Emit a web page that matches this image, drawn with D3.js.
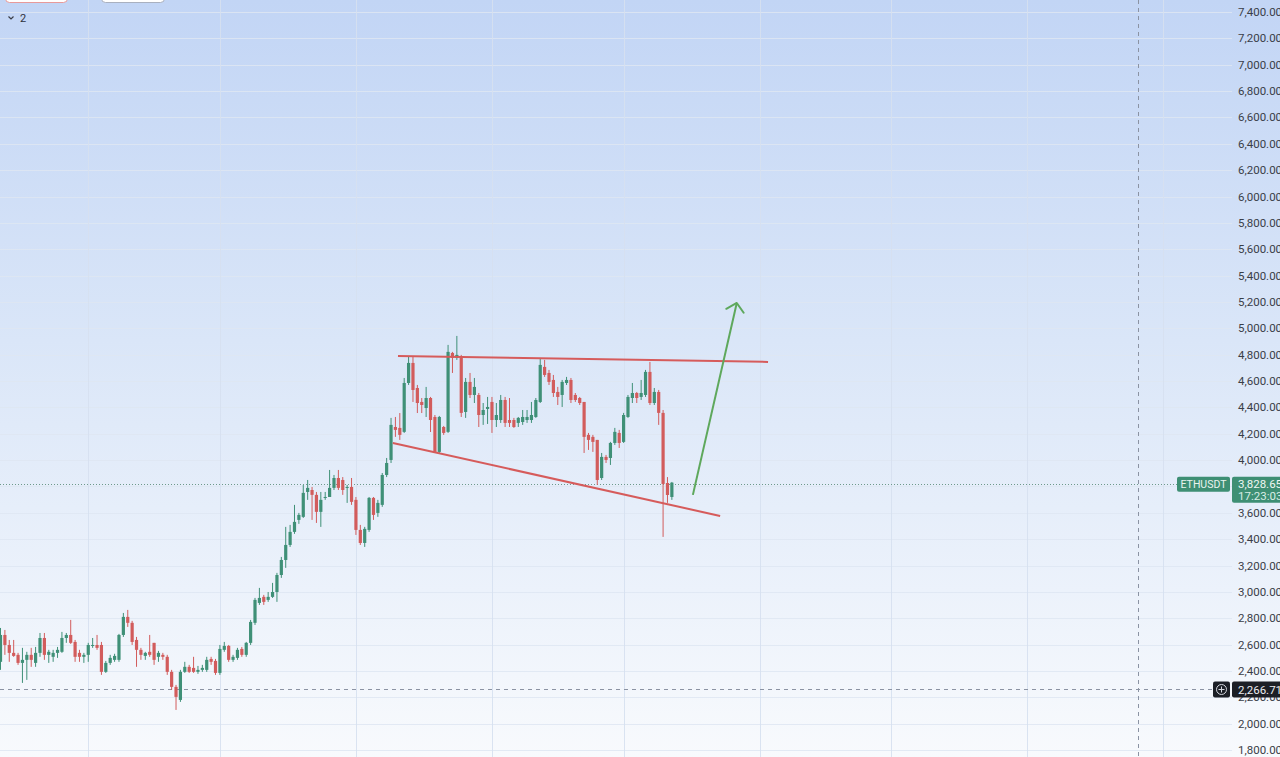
<!DOCTYPE html>
<html>
<head>
<meta charset="utf-8">
<script src="https://cdn.jsdelivr.net/npm/d3@7/dist/d3.min.js"></script>
<style>
html,body{margin:0;padding:0;background:#fff;overflow:hidden;}
svg{display:block;font-family:Roboto,"Liberation Sans",Arial,sans-serif;}
</style>
</head>
<body>
<svg id="chart" width="1280" height="757"></svg>
<script>
// ---- data (ETHUSDT daily) ----
const symbol = "ETHUSDT";
const firstDay = "2025-05-12";
const opens = [2469,2673,2597,2537,2522,2461,2484,2522,2461,2537,2650,2522,2507,2537,2545,2650,2673,2620,2537,2507,2522,2590,2597,2597,2393,2461,2484,2484,2673,2810,2765,2635,2560,2514,2545,2613,2507,2522,2507,2393,2279,2180,2393,2431,2423,2393,2408,2408,2491,2476,2385,2560,2590,2484,2499,2567,2522,2613,2765,2916,2962,2939,2962,2999,3128,3242,3356,3455,3546,3569,3758,3773,3736,3607,3713,3720,3789,3864,3849,3789,3796,3698,3470,3371,3470,3713,3599,3660,3887,4001,4251,4244,4214,4585,4737,4547,4441,4395,4471,4327,4062,4251,4214,4813,4775,4775,4365,4593,4494,4494,4342,4388,4441,4304,4304,4456,4304,4304,4282,4289,4304,4304,4327,4441,4707,4661,4608,4517,4494,4585,4608,4494,4471,4441,4191,4176,4153,3864,4024,4016,4130,4206,4138,4327,4471,4509,4479,4494,4669,4433,4517,4358,3826,3720];
const highs = [2726,2711,2635,2635,2537,2575,2545,2575,2582,2688,2688,2560,2560,2582,2696,2688,2787,2635,2560,2537,2613,2650,2673,2620,2476,2522,2530,2681,2840,2863,2780,2658,2575,2545,2673,2613,2552,2537,2522,2408,2294,2408,2469,2446,2507,2438,2446,2507,2507,2491,2597,2620,2597,2522,2575,2582,2620,2787,2954,3030,2977,2999,3068,3144,3265,3493,3508,3660,3599,3811,3849,3796,3758,3758,3758,3925,3887,3925,3871,3811,3864,3720,3508,3493,3720,3720,3698,3902,4016,4320,4327,4357,4623,4782,4782,4570,4471,4555,4479,4342,4335,4259,4874,4821,4942,4798,4623,4661,4623,4509,4433,4479,4479,4433,4494,4479,4471,4320,4327,4380,4380,4441,4471,4767,4760,4684,4646,4555,4608,4631,4623,4509,4479,4441,4206,4191,4153,4054,4039,4138,4244,4229,4358,4494,4585,4517,4608,4684,4745,4547,4532,4380,3871,3834];
const lows = [2408,2522,2469,2507,2446,2309,2332,2431,2431,2507,2484,2461,2469,2499,2537,2613,2605,2469,2469,2461,2469,2575,2560,2370,2385,2446,2469,2469,2658,2734,2597,2431,2484,2484,2507,2446,2469,2484,2370,2256,2104,2165,2385,2385,2385,2378,2393,2393,2446,2370,2370,2545,2469,2469,2484,2507,2507,2597,2749,2901,2901,2924,2954,2924,3106,3182,3341,3440,3516,3561,3698,3546,3523,3493,3698,3720,3773,3773,3736,3675,3660,3432,3356,3341,3455,3546,3569,3645,3871,3978,4176,4153,4206,4570,4441,4357,4357,4327,4213,4054,4054,4191,4206,4661,4760,4327,4320,4471,4433,4251,4267,4274,4206,4251,4282,4251,4251,4244,4251,4267,4282,4282,4320,4433,4631,4570,4479,4418,4403,4570,4433,4441,4418,4054,4077,4062,3811,3849,3978,3963,4115,4092,4130,4320,4433,4433,4456,4479,4418,4418,4267,3417,3675,3698];
const closes = [2673,2597,2537,2514,2461,2484,2522,2484,2537,2650,2522,2545,2537,2560,2650,2673,2613,2507,2507,2522,2597,2597,2575,2393,2461,2499,2514,2673,2810,2765,2620,2560,2522,2537,2522,2484,2537,2507,2393,2279,2203,2393,2431,2393,2393,2408,2423,2484,2469,2385,2567,2590,2484,2507,2560,2522,2613,2772,2939,2954,2924,2962,2999,3128,3242,3356,3455,3531,3584,3751,3789,3736,3607,3698,3720,3789,3864,3789,3773,3796,3683,3470,3371,3478,3713,3584,3675,3887,3978,4267,4229,4191,4585,4737,4532,4433,4418,4471,4304,4062,4327,4206,4821,4775,4798,4358,4593,4494,4555,4342,4380,4403,4304,4342,4456,4282,4282,4251,4320,4327,4327,4342,4456,4722,4646,4593,4509,4479,4593,4608,4456,4456,4433,4176,4153,4138,3849,4024,4001,4130,4214,4130,4342,4479,4509,4471,4509,4669,4433,4517,4358,3819,3735,3828.65];

// price-axis tick labels (3,800 sits under the last-price label)
const priceTicks = [1800,2000,2200,2400,2600,2800,3000,3200,3400,3600,4000,4200,4400,4600,4800,5000,5200,5400,5600,5800,6000,6200,6400,6600,6800,7000,7200,7400];
const gridPrices = [1800,2000,2200,2400,2600,2800,3000,3200,3400,3600,3800,4000,4200,4400,4600,4800,5000,5200,5400,5600,5800,6000,6200,6400,6600,6800,7000,7200,7400];
const monthLines = ["2025-06-01","2025-07-01","2025-08-01","2025-09-01","2025-10-01","2025-11-01","2025-12-01","2026-01-01","2026-02-01"];

// drawings on the chart (time, price)
const resistanceLine = [["2025-08-10T14:00Z", 4790], ["2025-11-02T22:00Z", 4745]];
const supportLine    = [["2025-08-09T10:00Z", 4130], ["2025-10-23T00:00Z", 3576]];
const projectionArrow= [["2025-10-16T19:00Z", 3736], ["2025-10-26T19:00Z", 5192]];

const lastPrice = 3828.65;
const countdown = "17:23:03";
const crosshairPrice = 2266.71;
const crosshairTime = "2026-01-26T03:00Z";
const intervalText = "2";

// ---- setup ----
const W = 1280, H = 757;
const svg = d3.select("#chart");
const parse = s => new Date(s.length === 10 ? s + "T00:00:00Z" : s);
const t0 = parse(firstDay);
const dates = opens.map((_, i) => d3.utcDay.offset(t0, i));
const candles = dates.map((d, i) => ({date: d, o: opens[i], h: highs[i], l: lows[i], c: closes[i]}));

const x = d3.scaleUtc()
  .domain([t0, dates[dates.length - 1]])
  .range([0.5, 0.5 + (dates.length - 1) * 4.388]);
const y = d3.scaleLinear().domain([1800, 7400]).range([750, 12]);

const plotRight = 1232;
const fmt = d3.format(",.2f");

// background gradient
const defs = svg.append("defs");
const grad = defs.append("linearGradient").attr("id", "bg").attr("x1", 0).attr("y1", 0).attr("x2", 0).attr("y2", 1);
grad.append("stop").attr("offset", "0%").attr("stop-color", "#c2d5f5");
grad.append("stop").attr("offset", "45%").attr("stop-color", "#dae6f8");
grad.append("stop").attr("offset", "100%").attr("stop-color", "#f8fafd");
svg.append("rect").attr("width", W).attr("height", H).attr("fill", "url(#bg)");

// grid
svg.append("g").selectAll("line").data(gridPrices).join("line")
  .attr("x1", 0).attr("x2", plotRight)
  .attr("y1", d => Math.round(y(d)) + 0.5).attr("y2", d => Math.round(y(d)) + 0.5)
  .attr("stroke", "rgba(222,230,242,0.85)").attr("stroke-width", 1);
svg.append("g").selectAll("line").data(monthLines.map(parse)).join("line")
  .attr("x1", d => Math.round(x(d)) + 0.5).attr("x2", d => Math.round(x(d)) + 0.5)
  .attr("y1", 0).attr("y2", H)
  .attr("stroke", "rgba(214,224,240,0.9)").attr("stroke-width", 1);

// price axis labels
svg.append("g").selectAll("text").data(priceTicks).join("text")
  .attr("x", 1238).attr("y", d => y(d))
  .attr("dy", "0.35em")
  .attr("font-size", 11.5).attr("fill", "#3a3e48")
  .text(d => fmt(d));

// crosshair
const chX = Math.round(x(parse(crosshairTime))) + 0.5;
svg.append("line")
  .attr("x1", chX).attr("x2", chX)
  .attr("y1", 0).attr("y2", H)
  .attr("stroke", "#8b93a3").attr("stroke-dasharray", "4,4").attr("stroke-width", 1);
svg.append("line")
  .attr("x1", 0).attr("x2", 1213)
  .attr("y1", Math.round(y(crosshairPrice)) + 1.5).attr("y2", Math.round(y(crosshairPrice)) + 1.5)
  .attr("stroke", "#8b93a3").attr("stroke-dasharray", "4,4").attr("stroke-width", 1);

// current price dotted line
svg.append("line")
  .attr("x1", 0).attr("x2", 1177)
  .attr("y1", Math.round(y(lastPrice)) + 1.5).attr("y2", Math.round(y(lastPrice)) + 1.5)
  .attr("stroke", "#6e9a8c").attr("stroke-dasharray", "1,2").attr("stroke-width", 1);

// candles
const up = "#3f9077", down = "#d25c5c";
const cg = svg.append("g");
cg.selectAll("line").data(candles).join("line")
  .attr("x1", d => x(d.date)).attr("x2", d => x(d.date))
  .attr("y1", d => y(d.h)).attr("y2", d => y(d.l))
  .attr("stroke", d => d.c >= d.o ? up : down).attr("stroke-width", 1);
cg.selectAll("rect").data(candles).join("rect")
  .attr("x", d => x(d.date) - 1.6).attr("width", 3.2)
  .attr("y", d => y(Math.max(d.o, d.c)))
  .attr("height", d => Math.max(1, Math.abs(y(d.o) - y(d.c))))
  .attr("fill", d => d.c >= d.o ? up : down);

// trend lines
const lineGen = d3.line().x(d => x(parse(d[0]))).y(d => y(d[1]));
svg.append("path").attr("d", lineGen(resistanceLine)).attr("stroke", "#d65b5b").attr("stroke-width", 2).attr("fill", "none");
svg.append("path").attr("d", lineGen(supportLine)).attr("stroke", "#d65b5b").attr("stroke-width", 2).attr("fill", "none");

// projection arrow
const a0 = [x(parse(projectionArrow[0][0])), y(projectionArrow[0][1])];
const a1 = [x(parse(projectionArrow[1][0])), y(projectionArrow[1][1])];
const ang = Math.atan2(a0[1] - a1[1], a0[0] - a1[0]);
const headLen = 12, spread = 48 * Math.PI / 180;
const w1 = [a1[0] + headLen * Math.cos(ang + spread), a1[1] + headLen * Math.sin(ang + spread)];
const w2 = [a1[0] + headLen * Math.cos(ang - spread), a1[1] + headLen * Math.sin(ang - spread)];
svg.append("path").attr("d", d3.line()([a0, a1])).attr("stroke", "#5ea85c").attr("stroke-width", 2).attr("fill", "none");
svg.append("path").attr("d", d3.line()([w1, a1, w2])).attr("stroke", "#5ea85c").attr("stroke-width", 2)
  .attr("fill", "none").attr("stroke-linejoin", "round").attr("stroke-linecap", "round");

// symbol + last price labels
const lpY = y(lastPrice) + 1;
const green = "#3e8f74";
svg.append("rect").attr("x", 1177).attr("y", lpY - 7).attr("width", 53).attr("height", 15).attr("rx", 2).attr("fill", green);
svg.append("text").attr("x", 1203.5).attr("y", lpY + 0.5).attr("dy", "0.35em").attr("text-anchor", "middle")
  .attr("font-size", 10.5).attr("fill", "#e8f3ee").text(symbol);
svg.append("rect").attr("x", 1232).attr("y", lpY - 7).attr("width", 60).attr("height", 26).attr("rx", 2).attr("fill", green);
svg.append("text").attr("x", 1238).attr("y", lpY + 0.5).attr("dy", "0.35em").attr("font-size", 11.5).attr("fill", "#eef7f2").text(fmt(lastPrice));
svg.append("text").attr("x", 1238).attr("y", lpY + 12.5).attr("dy", "0.35em").attr("font-size", 11.5).attr("fill", "#d8ede4").text(countdown);

// crosshair price label
const chY = y(crosshairPrice) + 1;
svg.append("rect").attr("x", 1213).attr("y", chY - 8).attr("width", 17).attr("height", 16).attr("rx", 2).attr("fill", "#1c1f26");
svg.append("circle").attr("cx", 1221.5).attr("cy", chY).attr("r", 5).attr("fill", "none").attr("stroke", "#d6d9e0").attr("stroke-width", 1);
svg.append("path").attr("d", `M1218.5,${chY}H1224.5M1221.5,${chY - 3}V${chY + 3}`).attr("stroke", "#d6d9e0").attr("stroke-width", 1);
svg.append("rect").attr("x", 1232).attr("y", chY - 8).attr("width", 60).attr("height", 16).attr("rx", 2).attr("fill", "#1c1f26");
svg.append("text").attr("x", 1238).attr("y", chY + 0.5).attr("dy", "0.35em").attr("font-size", 11.5).attr("fill", "#eceef2").text(fmt(crosshairPrice));

// top-left UI remnants
svg.append("rect").attr("x", 5.5).attr("y", -20).attr("width", 62).attr("height", 22.5).attr("rx", 4).attr("fill", "#ffffff").attr("stroke", "#e89a9a").attr("stroke-width", 1);
svg.append("rect").attr("x", 101.5).attr("y", -20).attr("width", 63).attr("height", 22.5).attr("rx", 4).attr("fill", "#ffffff").attr("stroke", "#a9b0bf").attr("stroke-width", 1);
svg.append("path").attr("d", "M8.5,16.5L11,19L13.5,16.5").attr("stroke", "#3a3e48").attr("stroke-width", 1.2).attr("fill", "none");
svg.append("text").attr("x", 20).attr("y", 18.5).attr("dy", "0.35em").attr("font-size", 11).attr("fill", "#2f333c").text(intervalText);
</script>
</body>
</html>
